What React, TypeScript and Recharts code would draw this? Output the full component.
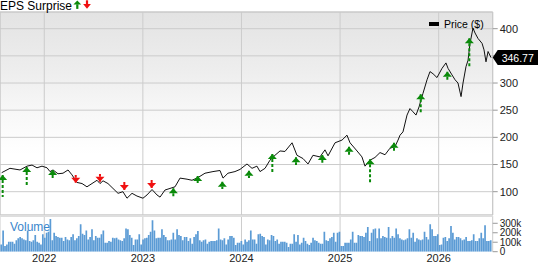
import React from 'react';
import { ComposedChart, Line, Bar, XAxis, YAxis, CartesianGrid, ReferenceLine, ReferenceDot, ReferenceArea } from 'recharts';

// time axis is in fractional years
const T_MIN = 2021.551;
const T_MAX = 2026.548;
const YEAR_TICKS = [2022, 2023, 2024, 2025, 2026];
const PRICE_TICKS = [100, 150, 200, 250, 300, 350, 400];
const VOLUME_TICKS = [0, 100, 200, 300];

const priceTimes = [
    2021.568, 2021.652, 2021.754, 2021.825, 2021.876, 2021.926, 2021.977, 2022.028, 2022.058, 2022.089,
    2022.139, 2022.190, 2022.241, 2022.281, 2022.332, 2022.383, 2022.433, 2022.484, 2022.535, 2022.565,
    2022.596, 2022.646, 2022.697, 2022.748, 2022.798, 2022.839, 2022.890, 2022.940, 2023.001, 2023.042,
    2023.093, 2023.143, 2023.174, 2023.224, 2023.275, 2023.326, 2023.377, 2023.448, 2023.498, 2023.559,
    2023.630, 2023.711, 2023.782, 2023.813, 2023.863, 2023.934, 2023.985, 2024.056, 2024.107, 2024.157,
    2024.188, 2024.239, 2024.289, 2024.340, 2024.391, 2024.441, 2024.513, 2024.563, 2024.624, 2024.675,
    2024.725, 2024.796, 2024.847, 2024.878, 2024.949, 2025.020, 2025.070, 2025.101, 2025.172, 2025.222,
    2025.253, 2025.304, 2025.354, 2025.405, 2025.456, 2025.506, 2025.557, 2025.588, 2025.608, 2025.638,
    2025.679, 2025.709, 2025.740, 2025.770, 2025.801, 2025.821, 2025.841, 2025.882, 2025.912, 2025.943,
    2025.983, 2026.034, 2026.074, 2026.095, 2026.135, 2026.166, 2026.196, 2026.227, 2026.247, 2026.277,
    2026.298, 2026.318, 2026.348, 2026.369, 2026.399, 2026.440, 2026.460, 2026.480, 2026.501, 2026.531,
];
const priceValues = [
    135, 143, 140, 147, 149, 144, 147, 144, 137, 140,
    133, 134, 140, 131, 117, 115, 109, 115, 121, 115,
    120, 115, 106, 97, 100, 88, 97, 92, 88, 94,
    104, 94, 90, 103, 106, 109, 125, 123, 121, 126,
    134, 137, 139, 125, 134, 137, 141, 151, 143, 147,
    137, 143, 158, 167, 175, 174, 190, 167, 161, 151,
    167, 164, 177, 166, 190, 195, 204, 190, 175, 164,
    147, 158, 163, 172, 168, 180, 183, 195, 204, 210,
    241, 253, 247, 241, 256, 269, 281, 306, 321, 317,
    310, 327, 337, 327, 315, 306, 300, 275, 300, 330,
    342, 373, 401, 392, 382, 373, 361, 339, 358, 346.77,
];

// earnings surprises: arrow tip price and tail price
const epsTimes = [
    2021.578, 2021.822, 2022.085, 2022.319, 2022.565, 2022.812, 2023.089, 2023.309, 2023.556, 2023.806,
    2024.076, 2024.313, 2024.553, 2024.820, 2025.091, 2025.304, 2025.547, 2025.818, 2026.088, 2026.311,
];
const epsTip = [
    130.7, 145.5, 140, 116.6, 118.4, 103.1, 106.8, 106.3, 128.9, 118.4,
    138.7, 169.4, 163.3, 167.5, 182.8, 159.6, 190.2, 279.3, 320.9, 382.3,
];
const epsTail = [
    90.2, 112.3, 125.2, 130.7, 132.5, 118.4, 121.5, 89.7, 116, 105,
    125.2, 135, 149.1, 153.4, 167.5, 116, 175.5, 244.3, 304.3, 330.1,
];
const epsBeat = [
    true, true, true, false, false, false, false, true, true, true,
    true, true, true, true, true, true, true, true, true, true,
];

// weekly volume, thousands of shares
const volume2021_22 = [
    77, 225, 60, 77, 106, 106, 106, 85, 120, 141, 155, 141, 130, 120, 225, 113, 106, 120, 176, 106,
    95, 77, 183, 148, 201, 211, 345, 120, 201, 165, 155, 148, 148, 113, 155, 130, 120, 155, 183, 120,
    141, 165, 289, 190, 176, 225, 130, 155, 236, 120, 165, 148, 148, 183, 225, 95, 95, 113, 106, 148,
    141, 148, 130, 120, 113, 141,
];
const volume2022_23 = [
    246, 236, 176, 148, 70, 130, 130, 183, 77, 130, 141, 148, 176, 211, 331, 225, 141, 148, 148, 236,
    176, 155, 120, 120, 130, 201, 130, 236, 176, 165, 120, 155, 155, 113, 141, 85, 155, 183, 218, 120,
    106, 120, 130, 85, 106, 113, 113, 113, 120, 246, 130, 120, 141, 77, 130, 165, 165, 148, 70, 95,
    95, 113, 77, 130, 106, 120,
];
const volume2024_25 = [
    225, 130, 130, 85, 183, 190, 165, 155, 77, 130, 120, 176, 165, 113, 130, 85, 106, 106, 106, 95,
    49, 85, 85, 183, 106, 176, 77, 95, 148, 113, 85, 70, 95, 148, 120, 113, 95, 85, 85, 211,
    120, 113, 141, 155, 201, 106, 201, 211, 60, 60, 95, 95, 95, 130, 211, 95, 95, 176, 165, 165,
    155, 201, 261, 113, 201, 236,
];
const volume2025_26 = [
    246, 141, 246, 141, 165, 155, 148, 261, 141, 165, 148, 246, 183, 141, 130, 120, 130, 141, 236, 148,
    201, 106, 141, 130, 120, 130, 211, 155, 130, 289, 236, 165, 165, 183, 70, 77, 148, 155, 113, 141,
    271, 201, 130, 155, 155, 141, 120, 130, 155, 113, 113, 120, 183, 113, 113, 141, 201, 141, 278, 113,
    113, 120,
];

const VOLUME_START = Date.UTC(2021, 6, 26);
const WEEK = 7 * 24 * 3600 * 1000;

const toYear = (ms: number) => {
    const y = new Date(ms).getUTCFullYear();
    const s = Date.UTC(y, 0, 1);
    const e = Date.UTC(y + 1, 0, 1);
    return y + (ms - s) / (e - s);
};

const priceRows = priceTimes.map((t, i) => ({ t, p: priceValues[i] }));
const volumeRows = [...volume2021_22, ...volume2022_23, ...volume2024_25, ...volume2025_26]
    .map((v, i) => ({ t: toYear(VOLUME_START + i * WEEK), v }));
const lastPrice = priceValues[priceValues.length - 1];

const GREEN = '#0a8a0a';
const RED = '#f01010';
const FONT = 'Arial, "Liberation Sans", sans-serif';

const UpHead = (props: any) => {
    const { cx, cy } = props;
    return <polygon points={`${cx},${cy} ${cx - 4.5},${cy + 5} ${cx + 4.5},${cy + 5}`} fill={GREEN} />;
};
const DownHead = (props: any) => {
    const { cx, cy } = props;
    return <polygon points={`${cx},${cy} ${cx - 4.5},${cy - 5} ${cx + 4.5},${cy - 5}`} fill={RED} />;
};
const PriceTag = (props: any) => {
    const { cx, cy } = props;
    return (
        <g>
            <polygon
                points={`${cx},${cy} ${cx + 5},${cy - 7.5} ${cx + 50},${cy - 7.5} ${cx + 50},${cy + 7.5} ${cx + 5},${cy + 7.5}`}
                fill="#000"
            />
            <text x={cx + 9} y={cy + 4.3} fill="#fff" fontSize={10.5} fontFamily={FONT}>{lastPrice.toFixed(2)}</text>
        </g>
    );
};

// price ticks hidden under the last-price tag are not labelled
const PriceTick = (props: any) => {
    const { x, y, payload } = props;
    if (Math.abs(payload.value - lastPrice) < 14) return <g />;
    return (
        <text x={x} y={y} dy="0.355em" textAnchor="start" fontSize={11} fill="#222" fontFamily={FONT}>
            {payload.value}
        </text>
    );
};

export default function App() {
    return (
        <div style={{ position: 'absolute', left: 0, top: 0, width: 538, height: 262, background: '#fff', fontFamily: FONT }}>
            <svg width={0} height={0} style={{ position: 'absolute' }}>
                <defs>
                    <linearGradient id="priceBg" x1="0" y1="0" x2="0" y2="1">
                        <stop offset="0" stopColor="#e3e3e3" />
                        <stop offset="0.3" stopColor="#eeeeee" />
                        <stop offset="0.5" stopColor="#f8f8f8" />
                        <stop offset="0.7" stopColor="#ffffff" />
                    </linearGradient>
                </defs>
            </svg>

            <div style={{ position: 'absolute', left: 0, top: 0 }}>
                <ComposedChart width={538} height={216} margin={{ top: 12, right: 0, bottom: 1, left: 0 }}>
                    <CartesianGrid stroke="#cccccc" fill="url(#priceBg)" />
                    <XAxis type="number" dataKey="t" domain={[T_MIN, T_MAX]} ticks={YEAR_TICKS} hide allowDataOverflow />
                    <YAxis
                        orientation="right"
                        width={45.3}
                        domain={[57.1, 430.7]}
                        ticks={PRICE_TICKS}
                        interval={0}
                        allowDataOverflow
                        axisLine={false}
                        tickLine={{ stroke: '#999' }}
                        tickSize={5}
                        tickMargin={2}
                        tick={PriceTick}
                    />
                    <ReferenceArea x1={T_MIN} x2={T_MAX} y1={57.1} y2={430.7} fill="none" stroke="#c8c8c8" />
                    <Line data={priceRows} dataKey="p" stroke="#111" strokeWidth={1} dot={false} isAnimationActive={false} />
                    {epsTimes.map((t, i) => (
                        <ReferenceLine
                            key={`s${i}`}
                            segment={[{ x: t, y: epsTip[i] }, { x: t, y: epsTail[i] }]}
                            stroke={epsBeat[i] ? GREEN : RED}
                            strokeWidth={2}
                            strokeDasharray="3 2"
                        />
                    ))}
                    {epsTimes.map((t, i) => (
                        <ReferenceDot key={`h${i}`} x={t} y={epsTip[i]} shape={epsBeat[i] ? UpHead : DownHead} />
                    ))}
                    <ReferenceDot x={T_MAX} y={lastPrice} ifOverflow="visible" shape={PriceTag} />
                </ComposedChart>
            </div>

            <div style={{ position: 'absolute', left: 0, top: 214 }}>
                <ComposedChart width={538} height={48} data={volumeRows} margin={{ top: 2, right: 0, bottom: 0, left: 0 }}>
                    <CartesianGrid horizontal={false} stroke="#cccccc" />
                    <XAxis
                        type="number"
                        dataKey="t"
                        domain={[T_MIN, T_MAX]}
                        ticks={YEAR_TICKS}
                        interval={0}
                        allowDataOverflow
                        axisLine={false}
                        tickLine={false}
                        tickSize={0}
                        tickMargin={2}
                        height={10.3}
                        tick={{ fontSize: 11, fill: '#222', fontFamily: FONT }}
                    />
                    <YAxis
                        orientation="right"
                        width={45.3}
                        domain={[0, 377]}
                        ticks={VOLUME_TICKS}
                        interval={0}
                        allowDataOverflow
                        axisLine={false}
                        tickLine={{ stroke: '#999' }}
                        tickSize={5}
                        tickMargin={2}
                        tickFormatter={(v: number) => (v === 0 ? '0' : `${v}k`)}
                        tick={{ fontSize: 10, fill: '#222', fontFamily: FONT }}
                    />
                    <ReferenceLine y={377} stroke="#dedede" strokeWidth={2} />
                    <Bar dataKey="v" fill="#5b9bd5" barSize={1.7} isAnimationActive={false} />
                </ComposedChart>
            </div>

            <svg width={538} height={262} style={{ position: 'absolute', left: 0, top: 0, pointerEvents: 'none' }}>
                <text x={0} y={9.5} fontSize={12} fill="#000" fontFamily={FONT}>EPS Surprise</text>
                <polygon points="77.3,0.5 73.4,4.5 81.2,4.5" fill={GREEN} />
                <rect x={76.2} y={4.3} width={2.2} height={4.6} fill={GREEN} />
                <rect x={85.9} y={0.3} width={2.2} height={4} fill={RED} />
                <polygon points="83.1,4.1 90.9,4.1 87,8.8" fill={RED} />
                <rect x={429} y={22} width={10} height={4} fill="#000" />
                <text x={444} y={27.6} fontSize={10.5} fill="#000" fontFamily={FONT}>Price ($)</text>
                <text x={10} y={230.5} fontSize={12} fill="#3a86cc" fontFamily={FONT}>Volume</text>
            </svg>
        </div>
    );
}
